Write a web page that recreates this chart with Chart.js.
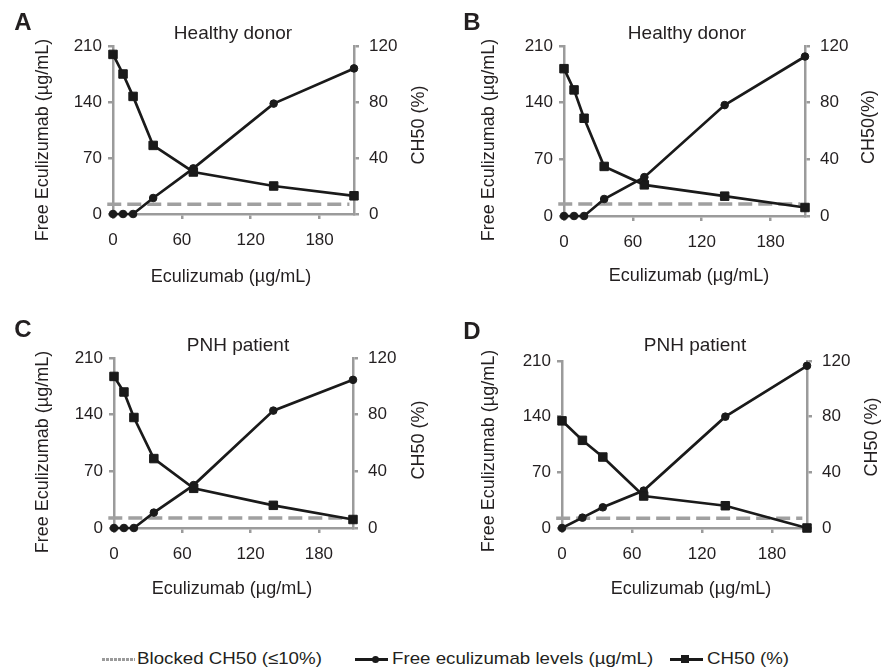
<!DOCTYPE html>
<html>
<head>
<meta charset="utf-8">
<script src="https://cdn.jsdelivr.net/npm/chart.js@4.4.0/dist/chart.umd.min.js"></script>
<style>
  body { margin: 0; background: #fff; }
  #fig { position: relative; width: 891px; height: 671px; font-family: "Liberation Sans", Arial, sans-serif; color: #231f20; overflow: hidden; }
  #fig canvas { position: absolute; }
  .lbl { position: absolute; white-space: nowrap; transform: translate(-50%, -50%); }
  .letter { font-weight: bold; font-size: 24px; }
  .ptitle { font-size: 19px; }
  .atitle { font-size: 18px; }
  .rot { transform: translate(-50%, -50%) rotate(-90deg); }
  .legtxt { position: absolute; top: 659px; font-size: 17px; white-space: nowrap; transform: translateY(-50%) scaleX(1.1); transform-origin: left center; }
  .sym { position: absolute; top: 650px; width: 33px; height: 18px; }
  .sym .ln { position: absolute; left: 0; right: 0; top: 8px; height: 2.5px; background: #1a1a1a; }
  .sym .dash { position: absolute; left: 0; right: 0; top: 7.5px; height: 3.5px;
    background: repeating-linear-gradient(90deg, #9b9b9b 0 3px, transparent 3px 4px); }
  .sym .dot { position: absolute; left: 17px; top: 5.5px; width: 7px; height: 7px; border-radius: 50%; background: #1a1a1a; }
  .sym .sq { position: absolute; left: 11px; top: 5px; width: 8px; height: 8px; background: #1a1a1a; }
</style>
</head>
<body>
<div id="fig">
  <canvas id="chartA" width="445" height="300" style="left:0;top:0"></canvas>
  <canvas id="chartB" width="446" height="300" style="left:445px;top:0"></canvas>
  <canvas id="chartC" width="445" height="330" style="left:0;top:300px"></canvas>
  <canvas id="chartD" width="446" height="330" style="left:445px;top:300px"></canvas>

  <div class="lbl letter" style="left:23px;top:22px">A</div>
  <div class="lbl ptitle" style="left:233px;top:33px">Healthy donor</div>
  <div class="lbl atitle rot" style="left:42px;top:140px">Free Eculizumab (µg/mL)</div>
  <div class="lbl atitle rot" style="left:418px;top:125px">CH50 (%)</div>
  <div class="lbl atitle" style="left:231px;top:276px">Eculizumab (µg/mL)</div>

  <div class="lbl letter" style="left:472px;top:22px">B</div>
  <div class="lbl ptitle" style="left:687px;top:33px">Healthy donor</div>
  <div class="lbl atitle rot" style="left:488px;top:140px">Free Eculizumab (µg/mL)</div>
  <div class="lbl atitle rot" style="left:868px;top:127px">CH50(%)</div>
  <div class="lbl atitle" style="left:689px;top:275px">Eculizumab (µg/mL)</div>

  <div class="lbl letter" style="left:23px;top:329px">C</div>
  <div class="lbl ptitle" style="left:238px;top:345px">PNH patient</div>
  <div class="lbl atitle rot" style="left:42px;top:452px">Free Eculizumab (µg/mL)</div>
  <div class="lbl atitle rot" style="left:418px;top:440px">CH50 (%)</div>
  <div class="lbl atitle" style="left:232px;top:588px">Eculizumab (µg/mL)</div>

  <div class="lbl letter" style="left:472px;top:331px">D</div>
  <div class="lbl ptitle" style="left:695px;top:345px">PNH patient</div>
  <div class="lbl atitle rot" style="left:488px;top:451px">Free Eculizumab (µg/mL)</div>
  <div class="lbl atitle rot" style="left:871px;top:437px">CH50 (%)</div>
  <div class="lbl atitle" style="left:691px;top:588px">Eculizumab (µg/mL)</div>

  <!-- legend -->
  <span class="sym" style="left:102px"><span class="dash"></span></span>
  <span class="legtxt" style="left:137px">Blocked CH50 (≤10%)</span>
  <span class="sym" style="left:355px"><span class="ln"></span><span class="dot"></span></span>
  <span class="legtxt" style="left:392px">Free eculizumab levels (µg/mL)</span>
  <span class="sym" style="left:670px"><span class="ln"></span><span class="sq"></span></span>
  <span class="legtxt" style="left:707px">CH50 (%)</span>
</div>

<script>
// eculizumab concentrations (µg/mL)
const dosesABC = [0, 8.75, 17.5, 35, 70, 140, 210];
const dosesD = [0, 17.5, 35, 70, 140, 210];

// free eculizumab (µg/mL) and CH50 (%) per panel
const freeA = [0, 0, 0, 20, 57, 138, 182];
const ch50A = [114, 100, 84, 49, 30, 20, 13];
const freeB = [0, 0, 0, 21, 48, 137, 197];
const ch50B = [104, 89, 69, 35, 22, 14, 6];
const freeC = [0, 0, 0, 19, 53, 145, 183];
const ch50C = [107, 96, 78, 49, 28, 16, 6];
const freeD = [0, 13, 26, 47, 140, 204];
const ch50D = [77, 63, 51, 23, 16, 0];

// blocked CH50 threshold line
const blockedX = [-5, 206];
const blockedLevel = [7, 8.5, 7, 7];

const xTicks = [0, 60, 120, 180];
const leftTicks = [0, 70, 140, 210];
const rightTicks = [0, 40, 80, 120];

Chart.defaults.font.family = '"Liberation Sans", Arial, sans-serif';
Chart.defaults.font.size = 17;
Chart.defaults.color = '#231f20';

const axisGrey = '#9b9b9b';
const ink = '#1a1a1a';

function axisStyle() {
    return {
        border: { display: true, color: axisGrey, width: 2.5 },
        grid: { drawOnChartArea: false, drawTicks: true, tickLength: 5, color: axisGrey, lineWidth: 2.5 }
    };
}

function makePanel(canvasId, doses, free, ch50, level, box) {
    const ctx = document.getElementById(canvasId).getContext('2d');
    const w = ctx.canvas.width, h = ctx.canvas.height;
    return new Chart(ctx, {
        type: 'line',
        data: {
            datasets: [
                {
                    label: 'CH50 (%)',
                    data: doses.map((d, i) => ({ x: d, y: ch50[i] })),
                    yAxisID: 'y1',
                    borderColor: ink, backgroundColor: ink, borderWidth: 2.7,
                    pointStyle: 'rect', pointRadius: 6, pointBorderWidth: 1,
                    clip: false
                },
                {
                    label: 'Free eculizumab levels (µg/mL)',
                    data: doses.map((d, i) => ({ x: d, y: free[i] })),
                    yAxisID: 'y',
                    borderColor: ink, backgroundColor: ink, borderWidth: 2.7,
                    pointStyle: 'circle', pointRadius: 3.8, pointBorderWidth: 1,
                    clip: false
                },
                {
                    label: 'Blocked CH50 (≤10%)',
                    data: blockedX.map(x => ({ x: x, y: level })),
                    yAxisID: 'y1',
                    borderColor: '#a0a0a0', borderWidth: 3.5, borderDash: [14, 6],
                    pointRadius: 0, clip: false
                }
            ]
        },
        options: {
            responsive: false,
            animation: false,
            events: [],
            layout: { padding: { top: box.top, left: 0, right: 0, bottom: 0 } },
            plugins: { legend: { display: false }, tooltip: { enabled: false }, title: { display: false } },
            scales: {
                x: {
                    type: 'linear', min: 0, max: 210,
                    ...axisStyle(),
                    afterFit: s => { s.height = h - box.bottom; },
                    afterBuildTicks: s => { s.ticks = xTicks.map(v => ({ value: v })); },
                    ticks: { padding: 11 }
                },
                y: {
                    position: 'left', min: 0, max: 210,
                    ...axisStyle(),
                    afterFit: s => { s.width = box.left; },
                    afterBuildTicks: s => { s.ticks = leftTicks.map(v => ({ value: v })); },
                    ticks: { padding: 6 }
                },
                y1: {
                    position: 'right', min: 0, max: 120,
                    ...axisStyle(),
                    afterFit: s => { s.width = w - box.right; },
                    afterBuildTicks: s => { s.ticks = rightTicks.map(v => ({ value: v })); },
                    ticks: { padding: 10 }
                }
            }
        }
    });
}

makePanel('chartA', dosesABC, freeA, ch50A, blockedLevel[0], { left: 113, right: 354, top: 46, bottom: 214 });
makePanel('chartB', dosesABC, freeB, ch50B, blockedLevel[1], { left: 119, right: 360, top: 46, bottom: 216 });
makePanel('chartC', dosesABC, freeC, ch50C, blockedLevel[2], { left: 114, right: 353, top: 58, bottom: 228 });
makePanel('chartD', dosesD, freeD, ch50D, blockedLevel[3], { left: 117, right: 362, top: 61, bottom: 228 });
</script>
</body>
</html>
